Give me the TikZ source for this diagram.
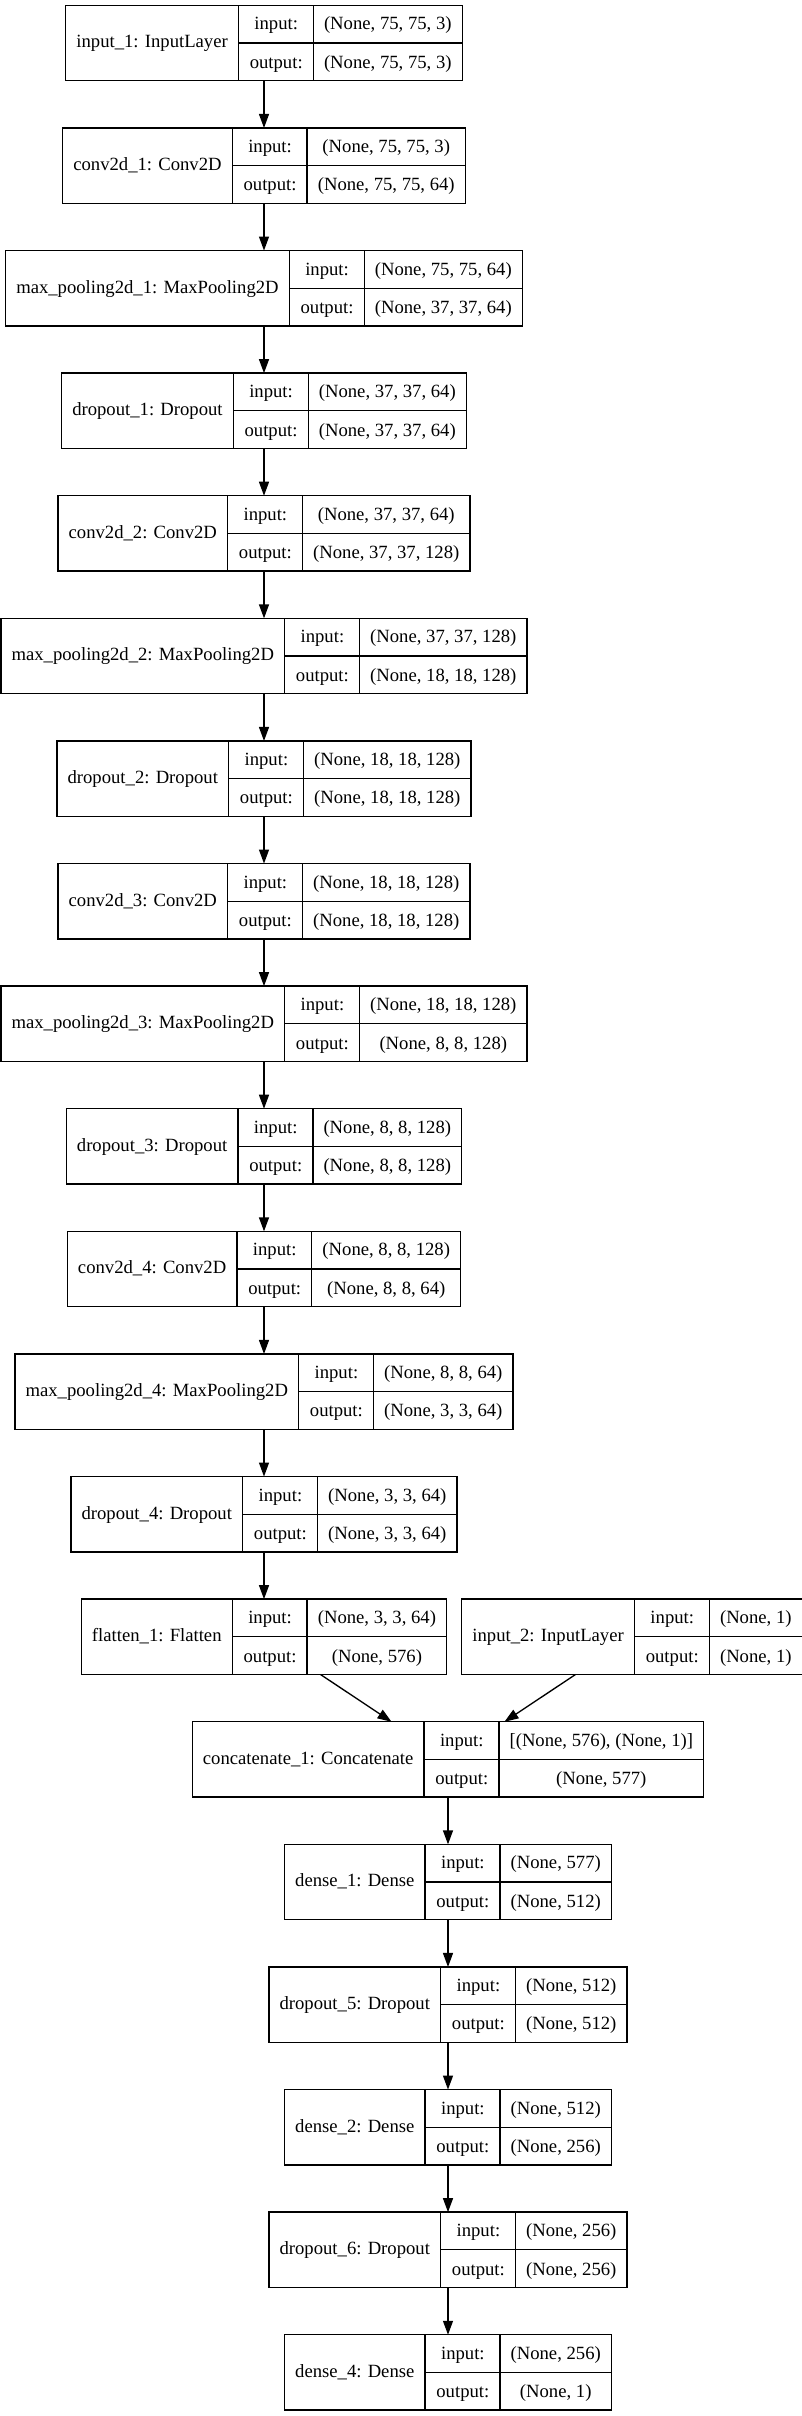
\documentclass[tikz,border=0pt]{standalone}
\usepackage{fontspec}
\setmainfont{Liberation Serif}
\usetikzlibrary{arrows.meta}

\newcommand{\recfont}{\fontsize{14}{17}\selectfont}
\setlength{\tabcolsep}{8pt}
\setlength{\arrayrulewidth}{1pt}
\newcommand{\rowstrut}{\rule[-9.3pt]{0pt}{27.75pt}}

% record of one layer: title | input:/output: | shapes
\newcommand{\rec}[3]{%
  \begin{tabular}{c|@{}c@{}}
    #1 &
    \begin{tabular}{c|c}
      \rowstrut input: & #2 \\ \hline
      \rowstrut output: & #3
    \end{tabular}
  \end{tabular}}

\begin{document}
\begin{tikzpicture}[
        record/.style={rectangle, draw=black, fill=white, line width=1pt, font=\recfont, inner sep=0pt, outer sep=0pt},
        line/.style={draw, line width=1pt, -{Triangle[length=10.5pt, width=7.5pt]}}
    ]
        \path[fill=white, use as bounding box] (0,0) rectangle (600.75pt,-1812pt);

        % Convolutional part
        \node[record] (in1) at (198pt,-32.25pt) {\rec{input\_1: InputLayer}{(None, 75, 75, 3)}{(None, 75, 75, 3)}};
        \node[record] (conv1) at (198pt,-124.2pt) {\rec{conv2d\_1: Conv2D}{(None, 75, 75, 3)}{(None, 75, 75, 64)}};
        \node[record] (pool1) at (198pt,-216.15pt) {\rec{max\_pooling2d\_1: MaxPooling2D}{(None, 75, 75, 64)}{(None, 37, 37, 64)}};
        \node[record] (drop1) at (198pt,-308.1pt) {\rec{dropout\_1: Dropout}{(None, 37, 37, 64)}{(None, 37, 37, 64)}};
        \node[record] (conv2) at (198pt,-400.05pt) {\rec{conv2d\_2: Conv2D}{(None, 37, 37, 64)}{(None, 37, 37, 128)}};
        \node[record] (pool2) at (198pt,-492pt) {\rec{max\_pooling2d\_2: MaxPooling2D}{(None, 37, 37, 128)}{(None, 18, 18, 128)}};
        \node[record] (drop2) at (198pt,-583.95pt) {\rec{dropout\_2: Dropout}{(None, 18, 18, 128)}{(None, 18, 18, 128)}};
        \node[record] (conv3) at (198pt,-675.9pt) {\rec{conv2d\_3: Conv2D}{(None, 18, 18, 128)}{(None, 18, 18, 128)}};
        \node[record] (pool3) at (198pt,-767.85pt) {\rec{max\_pooling2d\_3: MaxPooling2D}{(None, 18, 18, 128)}{(None, 8, 8, 128)}};
        \node[record] (drop3) at (198pt,-859.8pt) {\rec{dropout\_3: Dropout}{(None, 8, 8, 128)}{(None, 8, 8, 128)}};
        \node[record] (conv4) at (198pt,-951.75pt) {\rec{conv2d\_4: Conv2D}{(None, 8, 8, 128)}{(None, 8, 8, 64)}};
        \node[record] (pool4) at (198pt,-1043.7pt) {\rec{max\_pooling2d\_4: MaxPooling2D}{(None, 8, 8, 64)}{(None, 3, 3, 64)}};
        \node[record] (drop4) at (198pt,-1135.65pt) {\rec{dropout\_4: Dropout}{(None, 3, 3, 64)}{(None, 3, 3, 64)}};

        % Merge of the two inputs
        \node[record] (flat1) at (198pt,-1227.6pt) {\rec{flatten\_1: Flatten}{(None, 3, 3, 64)}{(None, 576)}};
        \node[record] (in2) at (474pt,-1227.6pt) {\rec{input\_2: InputLayer}{(None, 1)}{(None, 1)}};
        \node[record] (cat1) at (336pt,-1319.55pt) {\rec{concatenate\_1: Concatenate}{[(None, 576), (None, 1)]}{(None, 577)}};

        % Dense part
        \node[record] (dense1) at (336pt,-1411.5pt) {\rec{dense\_1: Dense}{(None, 577)}{(None, 512)}};
        \node[record] (drop5) at (336pt,-1503.45pt) {\rec{dropout\_5: Dropout}{(None, 512)}{(None, 512)}};
        \node[record] (dense2) at (336pt,-1595.4pt) {\rec{dense\_2: Dense}{(None, 512)}{(None, 256)}};
        \node[record] (drop6) at (336pt,-1687.35pt) {\rec{dropout\_6: Dropout}{(None, 256)}{(None, 256)}};
        \node[record] (dense4) at (336pt,-1779.3pt) {\rec{dense\_4: Dense}{(None, 256)}{(None, 1)}};

        % Connections
        \draw[line] (in1) -- (conv1);
        \draw[line] (conv1) -- (pool1);
        \draw[line] (pool1) -- (drop1);
        \draw[line] (drop1) -- (conv2);
        \draw[line] (conv2) -- (pool2);
        \draw[line] (pool2) -- (drop2);
        \draw[line] (drop2) -- (conv3);
        \draw[line] (conv3) -- (pool3);
        \draw[line] (pool3) -- (drop3);
        \draw[line] (drop3) -- (conv4);
        \draw[line] (conv4) -- (pool4);
        \draw[line] (pool4) -- (drop4);
        \draw[line] (drop4) -- (flat1);
        \draw[line] (flat1) -- (cat1);
        \draw[line] (in2) -- (cat1);
        \draw[line] (cat1) -- (dense1);
        \draw[line] (dense1) -- (drop5);
        \draw[line] (drop5) -- (dense2);
        \draw[line] (dense2) -- (drop6);
        \draw[line] (drop6) -- (dense4);
    \end{tikzpicture}
\end{document}
